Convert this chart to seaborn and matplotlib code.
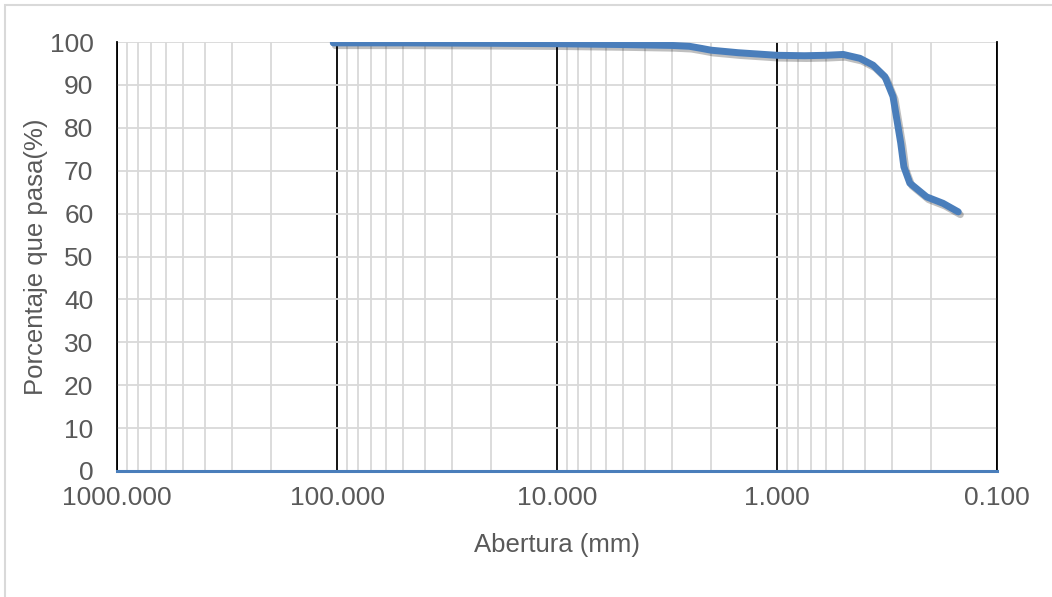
import pandas as pd
import matplotlib
matplotlib.use("Agg")
import matplotlib.pyplot as plt
import matplotlib.ticker as mticker
import matplotlib.patheffects as pe
from matplotlib.patches import Rectangle
import seaborn as sns

# Curva granulométrica
abertura_mm = [104, 50, 20, 10, 5, 3, 2.5, 2.2, 2.0, 1.5, 1.0, 0.75, 0.6, 0.5,
               0.42, 0.366, 0.323, 0.297, 0.285, 0.274, 0.265, 0.249, 0.209, 0.176, 0.15]
porcentaje_pasa = [99.8, 99.8, 99.7, 99.6, 99.4, 99.2, 99.0, 98.5, 98.1, 97.5, 96.9, 96.8, 96.9, 97.1,
                   96.2, 94.6, 91.9, 87.3, 81.8, 76.5, 70.9, 67.1, 63.9, 62.4, 60.4]

df = pd.DataFrame({"Abertura": abertura_mm, "Pasa": porcentaje_pasa})

sns.set_theme(style="white")
plt.rcParams["font.family"] = ["Liberation Sans", "DejaVu Sans"]

gris = "#595959"
azul = "#4a7ebb"

fig = plt.figure(figsize=(10.52, 5.97), dpi=100)
ax = fig.add_axes([117 / 1052, 1 - 471 / 597, 880 / 1052, 429 / 597])

# borde del área del gráfico
fig.patches.append(Rectangle((5 / 1052, -0.02), 1.05, 1 - 5 / 597 + 0.02, transform=fig.transFigure,
                             fill=False, edgecolor="#d9d9d9", linewidth=1.5, zorder=0))

sns.lineplot(data=df, x="Abertura", y="Pasa", ax=ax, sort=False, estimator=None,
             color=azul, linewidth=5, solid_capstyle="round", solid_joinstyle="round",
             path_effects=[pe.SimpleLineShadow(offset=(1.5, -2), shadow_color="black", alpha=0.25),
                           pe.Normal()], zorder=5)

ax.set_xscale("log")
ax.set_xlim(1000, 0.1)
ax.set_ylim(0, 100)
ax.set_yticks(range(0, 101, 10))
ax.xaxis.set_major_locator(mticker.LogLocator(base=10, numticks=10))
ax.xaxis.set_minor_locator(mticker.LogLocator(base=10, subs=range(2, 10), numticks=50))
ax.xaxis.set_major_formatter(mticker.FormatStrFormatter("%.3f"))
ax.xaxis.set_minor_formatter(mticker.NullFormatter())

ax.grid(True, which="minor", axis="x", color="#d9d9d9", linewidth=1.3)
ax.grid(True, which="major", axis="y", color="#d9d9d9", linewidth=1.3)
ax.grid(True, which="major", axis="x", color="black", linewidth=1.3)
ax.set_axisbelow(True)

ax.spines["top"].set_visible(False)
for s in ["left", "right"]:
    ax.spines[s].set_color("black")
    ax.spines[s].set_linewidth(1.3)
ax.spines["bottom"].set_color(azul)
ax.spines["bottom"].set_linewidth(2.2)
ax.spines["bottom"].set_zorder(4)

ax.tick_params(axis="both", which="both", length=0, labelsize=19, labelcolor=gris)
ax.tick_params(axis="x", pad=11)
ax.tick_params(axis="y", pad=17)

ax.set_xlabel("Abertura (mm)", fontsize=18.5, color=gris)
ax.set_ylabel("Porcentaje que pasa(%)", fontsize=18.5, color=gris)
ax.xaxis.set_label_coords(0.5, -0.1445)
ax.yaxis.set_label_coords(-0.078, 0.5)

fig.savefig("out.png", dpi=100)
